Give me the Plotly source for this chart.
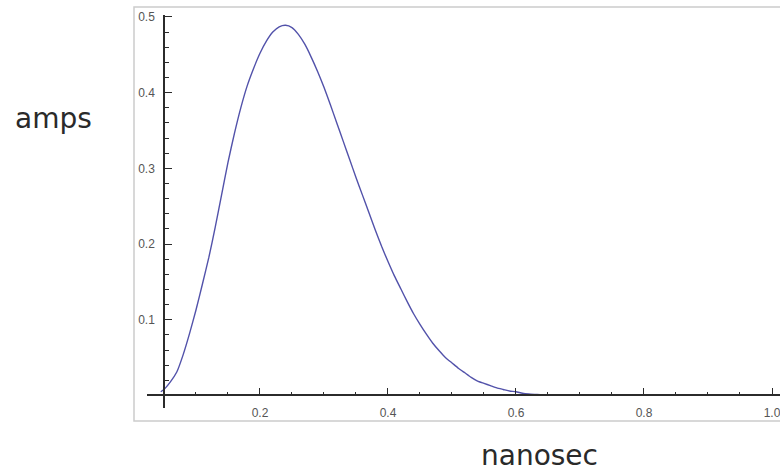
import plotly.graph_objects as go

# Current pulse sampled along the time axis
time_ns = [0.045, 0.05, 0.06, 0.07, 0.08, 0.09, 0.10, 0.11, 0.12, 0.13, 0.14,
           0.15, 0.16, 0.17, 0.18, 0.19, 0.20, 0.21, 0.22, 0.23, 0.24, 0.25,
           0.26, 0.27, 0.28, 0.29, 0.30, 0.31, 0.32, 0.33, 0.34, 0.35, 0.36,
           0.37, 0.38, 0.39, 0.40, 0.41, 0.42, 0.43, 0.44, 0.45, 0.46, 0.47,
           0.48, 0.49, 0.50, 0.51, 0.52, 0.53, 0.54, 0.55, 0.56, 0.57, 0.58,
           0.59, 0.60, 0.61, 0.62, 0.63, 0.64, 0.65]
current_a = [0.005, 0.008, 0.018, 0.031, 0.054, 0.082, 0.113, 0.147, 0.182, 0.222, 0.265,
             0.308, 0.346, 0.380, 0.409, 0.432, 0.452, 0.468, 0.480, 0.487, 0.489, 0.486,
             0.477, 0.464, 0.447, 0.428, 0.407, 0.384, 0.360, 0.336, 0.312, 0.288, 0.265,
             0.242, 0.219, 0.197, 0.177, 0.158, 0.141, 0.124, 0.108, 0.094, 0.081, 0.069,
             0.059, 0.050, 0.043, 0.036, 0.030, 0.024, 0.019, 0.016, 0.013, 0.010, 0.008,
             0.006, 0.005, 0.003, 0.002, 0.0015, 0.001, 0.0008]

x_tick_vals = [0.2, 0.4, 0.6, 0.8, 1.0]
x_tick_text = ["0.2", "0.4", "0.6", "0.8", "1.0"]
y_tick_vals = [0.1, 0.2, 0.3, 0.4, 0.5]
y_tick_text = ["0.1", "0.2", "0.3", "0.4", "0.5"]

x_label = "nanosec"
y_label = "amps"

line_color = "rgb(82,82,170)"
axis_color = "#2b2b2b"
label_color = "#555555"

fig = go.Figure()
fig.add_trace(go.Scatter(
    x=time_ns, y=current_a, mode="lines",
    line=dict(color=line_color, width=1.4, shape="spline", smoothing=0.5),
    hoverinfo="skip", showlegend=False,
))

tick_font = dict(family="Liberation Sans, Arial, sans-serif", size=12, color=label_color)
title_font = dict(family="DejaVu Sans, sans-serif", size=28, color="#2a2a2a")

fig.update_layout(
    width=780, height=475,
    margin=dict(l=134, r=0, t=7, b=54),
    paper_bgcolor="white", plot_bgcolor="white",
    xaxis=dict(
        domain=[0.0201, 1.0], range=[0.02344, 1.0125],
        anchor="free", position=0.0616,
        showgrid=False, zeroline=False,
        showline=True, linecolor=axis_color, linewidth=1.5,
        tickmode="array", tickvals=x_tick_vals, ticktext=x_tick_text,
        ticks="inside", ticklen=7, tickwidth=1.2, tickcolor=axis_color,
        minor=dict(dtick=0.05, tick0=0, ticks="inside", ticklen=3,
                   tickwidth=1, tickcolor=axis_color),
        tickfont=tick_font, ticklabelstandoff=6, ticklabeloverflow="allow",
    ),
    yaxis=dict(
        domain=[0.0314, 0.9807], range=[-0.0165, 0.5026],
        anchor="free", position=0.0464,
        showgrid=False, zeroline=False,
        showline=True, linecolor=axis_color, linewidth=1.5,
        tickmode="array", tickvals=y_tick_vals, ticktext=y_tick_text,
        ticks="inside", ticklen=7, tickwidth=1.2, tickcolor=axis_color,
        minor=dict(dtick=0.02, tick0=0, ticks="inside", ticklen=4,
                   tickwidth=1, tickcolor=axis_color),
        tickfont=tick_font, ticklabelstandoff=6, ticklabeloverflow="allow",
    ),
    shapes=[dict(
        type="rect", xref="paper", yref="paper",
        x0=0, x1=1.05, y0=0, y1=1,
        line=dict(color="#cccccc", width=1.5), fillcolor="rgba(0,0,0,0)",
        layer="below",
    )],
    annotations=[
        dict(text=y_label, xref="paper", yref="paper",
             x=(53 - 134) / 646, y=(421 - 119) / 414,
             xanchor="center", yanchor="middle", showarrow=False,
             font=title_font),
        dict(text=x_label, xref="paper", yref="paper",
             x=(539 - 134) / 646, y=(421 - 474) / 414,
             xanchor="center", yanchor="bottom", showarrow=False,
             font=title_font),
    ],
)

fig.write_html("out.html")
